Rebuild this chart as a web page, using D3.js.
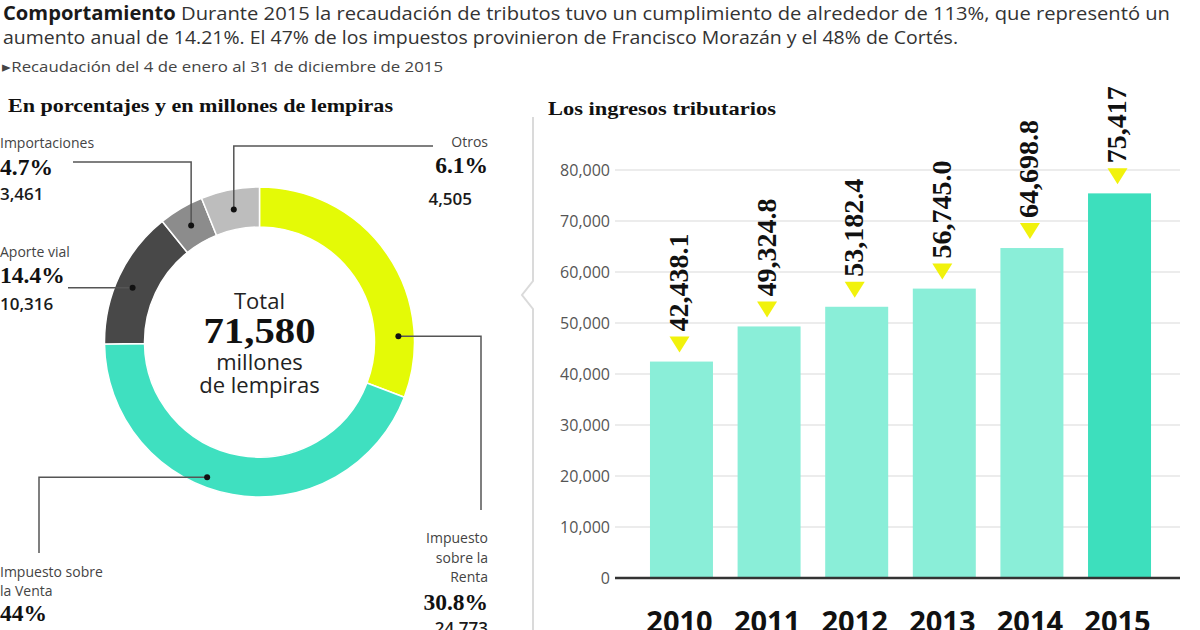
<!DOCTYPE html>
<html>
<head>
<meta charset="utf-8">
<script src="https://cdn.jsdelivr.net/npm/d3@7"></script>
<style>
  body { margin: 0; background: #fff; }
  svg { display: block; }
</style>
</head>
<body>
<div id="chart"></div>
<script>

// donut data
var sliceNames = ["Impuesto sobre la Renta", "Impuesto sobre la Venta", "Aporte vial", "Importaciones", "Otros"];
var slicePct = [30.8, 44, 14.4, 4.7, 6.1];
var sliceValues = ["24,773", null, "10,316", "3,461", "4,505"];
var sliceColors = ["#e4fa06", "#3fe0c0", "#484848", "#8c8c8c", "#bdbdbd"];
var totalLabel = "71,580";

// bar data
var years = ["2010", "2011", "2012", "2013", "2014", "2015"];
var ingresos = [42438.1, 49324.8, 53182.4, 56745.0, 64698.8, 75417];
var ingresosLabels = ["42,438.1", "49,324.8", "53,182.4", "56,745.0", "64,698.8", "75,417"];
var yTicks = [0, 10000, 20000, 30000, 40000, 50000, 60000, 70000, 80000];

var W = 1200, H = 630;
var sans = "'Open Sans', 'Noto Sans', sans-serif";
var serif = "'Liberation Serif', 'DejaVu Serif', serif";

var svg = d3.select("#chart")
    .append("svg")
    .attr("width", W)
    .attr("height", H);

// ---- header ----
var h1 = svg.append("text")
    .attr("x", 3).attr("y", 19.5)
    .attr("textLength", 1167).attr("lengthAdjust", "spacingAndGlyphs")
    .style("font-family", sans).style("font-size", "19px").style("fill", "#333");
h1.append("tspan").style("font-weight", 700).style("fill", "#1a1a1a").text("Comportamiento");
h1.append("tspan").text(" Durante 2015 la recaudación de tributos tuvo un cumplimiento de alrededor de 113%, que representó un");

svg.append("text")
    .attr("x", 3).attr("y", 43.5)
    .attr("textLength", 955).attr("lengthAdjust", "spacingAndGlyphs")
    .style("font-family", sans).style("font-size", "19px").style("fill", "#333")
    .text("aumento anual de 14.21%. El 47% de los impuestos provinieron de Francisco Morazán y el 48% de Cortés.");

svg.append("text")
    .attr("x", 2).attr("y", 72)
    .attr("textLength", 441).attr("lengthAdjust", "spacingAndGlyphs")
    .style("font-family", sans).style("font-size", "14.5px").style("fill", "#444")
    .text("▸Recaudación del 4 de enero al 31 de diciembre de 2015");

svg.append("text")
    .attr("x", 8).attr("y", 112)
    .attr("textLength", 385).attr("lengthAdjust", "spacingAndGlyphs")
    .style("font-family", serif).style("font-weight", 700).style("font-size", "19px").style("fill", "#111")
    .text("En porcentajes y en millones de lempiras");

svg.append("text")
    .attr("x", 548).attr("y", 115)
    .attr("textLength", 228).attr("lengthAdjust", "spacingAndGlyphs")
    .style("font-family", serif).style("font-weight", 700).style("font-size", "19px").style("fill", "#111")
    .text("Los ingresos tributarios");

// divider with chevron
svg.append("path")
    .attr("d", "M533,117 L533,281 L522,295 L533,309 L533,630")
    .style("fill", "none").style("stroke", "#dadada").style("stroke-width", 2);

// ---- donut ----
var cx = 259.5, cy = 342, rIn = 115, rOut = 155;

var pie = d3.pie().sort(null).value(function (d) { return d; });
var arcs = pie(slicePct);
var arc = d3.arc().innerRadius(rIn).outerRadius(rOut);

var donut = svg.append("g").attr("transform", "translate(" + cx + "," + cy + ")");

donut.selectAll("path")
    .data(arcs)
    .enter()
    .append("path")
    .attr("d", arc)
    .style("fill", function (d, i) { return sliceColors[i] })
    .style("stroke", "#fff")
    .style("stroke-width", 1.5);

// where leader dots sit inside each slice, and how the leader runs
var dotFrac = [0.79, 0.57, 0.46, 0.5, 0.5];
var dotR = [139, 145, 138, 135, 135];
var leaders = [
    { type: "hv", x: 481, y: 510 },
    { type: "hv", x: 39, y: 553 },
    { type: "h", x: 68 },
    { type: "vh", x: 73, y: 162 },
    { type: "vh", x: 433, y: 146 }
];

arcs.forEach(function (a, i) {
    var ang = a.startAngle + (a.endAngle - a.startAngle) * dotFrac[i];
    var dx = cx + dotR[i] * Math.sin(ang);
    var dy = cy - dotR[i] * Math.cos(ang);
    var L = leaders[i];
    var pts;
    if (L.type == "hv") pts = [[dx, dy], [L.x, dy], [L.x, L.y]];
    else if (L.type == "vh") pts = [[dx, dy], [dx, L.y], [L.x, L.y]];
    else pts = [[dx, dy], [L.x, dy]];
    svg.append("path")
        .attr("d", d3.line()(pts))
        .style("fill", "none").style("stroke", "#555").style("stroke-width", 1.5);
    svg.append("circle")
        .attr("cx", dx).attr("cy", dy).attr("r", 3)
        .style("fill", "#111");
});

// slice labels: [text, kind, y]
var labelBlocks = [
    { anchor: "end", x: 488, lines: [["Impuesto", "s", 543], ["sobre la", "s", 563], ["Renta", "s", 582], [slicePct[0] + "%", "p", 610], [sliceValues[0], "v", 634]] },
    { anchor: "start", x: 0, lines: [["Impuesto sobre", "s", 577], ["la Venta", "s", 596], [slicePct[1] + "%", "p", 621]] },
    { anchor: "start", x: 0, lines: [["Aporte vial", "s", 257], [slicePct[2] + "%", "p", 283], [sliceValues[2], "v", 310]] },
    { anchor: "start", x: 0, lines: [["Importaciones", "s", 148], [slicePct[3] + "%", "p", 175], [sliceValues[3], "v", 200]] },
    { anchor: "end", x: 488, lines: [["Otros", "s", 147], [slicePct[4] + "%", "p", 173], [sliceValues[4], "v", 205, 472]] }
];

labelBlocks.forEach(function (b) {
    b.lines.forEach(function (ln) {
        var t = svg.append("text")
            .attr("x", ln[3] || b.x)
            .attr("y", ln[2])
            .attr("text-anchor", b.anchor)
            .text(ln[0]);
        if (ln[1] == "s") {
            t.style("font-family", sans).style("font-size", "14px").style("fill", "#444");
        } else if (ln[1] == "p") {
            t.style("font-family", serif).style("font-weight", 700).style("font-size", "23.5px").style("fill", "#111");
        } else {
            t.style("font-family", sans).style("font-weight", 600).style("font-size", "17px").style("fill", "#1a1a1a");
        }
    });
});

// center text
svg.append("text").attr("x", cx).attr("y", 309).attr("text-anchor", "middle")
    .style("font-family", sans).style("font-size", "22px").style("fill", "#222").text("Total");
svg.append("text").attr("x", cx).attr("y", 343).attr("text-anchor", "middle")
    .attr("textLength", 112).attr("lengthAdjust", "spacingAndGlyphs")
    .style("font-family", serif).style("font-weight", 700).style("font-size", "36px").style("fill", "#111").text(totalLabel);
svg.append("text").attr("x", cx).attr("y", 370).attr("text-anchor", "middle")
    .style("font-family", sans).style("font-size", "22px").style("fill", "#222").text("millones");
svg.append("text").attr("x", cx).attr("y", 393).attr("text-anchor", "middle")
    .style("font-family", sans).style("font-size", "22px").style("fill", "#222").text("de lempiras");

// ---- bar chart ----
var x = d3.scaleBand()
    .domain(years)
    .range([618, 1183])
    .paddingInner(0.281)
    .paddingOuter(0.365);

var y = d3.scaleLinear()
    .domain([0, 80000])
    .range([578, 170]);

var chart = svg.append("g");

chart.selectAll(".grid")
    .data(yTicks.slice(1))
    .enter()
    .append("line")
    .attr("x1", 615).attr("x2", 1180)
    .attr("y1", function (d) { return y(d) })
    .attr("y2", function (d) { return y(d) })
    .style("stroke", "#e6e6e6").style("stroke-width", 1.5);

chart.selectAll(".ytick")
    .data(yTicks)
    .enter()
    .append("text")
    .attr("x", 610)
    .attr("y", function (d) { return y(d) })
    .attr("dy", "0.36em")
    .attr("text-anchor", "end")
    .style("font-family", sans).style("font-size", "16px").style("fill", "#555")
    .text(function (d) { return d3.format(",")(d) });

chart.selectAll(".bar")
    .data(ingresos)
    .enter()
    .append("rect")
    .attr("x", function (d, i) { return x(years[i]) })
    .attr("y", function (d) { return y(d) })
    .attr("width", x.bandwidth())
    .attr("height", function (d) { return y(0) - y(d) })
    .style("fill", function (d, i) { return i == years.length - 1 ? "#3ddfbd" : "#8aeed8" });

chart.append("line")
    .attr("x1", 615).attr("x2", 1180)
    .attr("y1", y(0)).attr("y2", y(0))
    .style("stroke", "#333").style("stroke-width", 2.5);

// yellow markers + rotated values
chart.selectAll(".tri")
    .data(ingresos)
    .enter()
    .append("path")
    .attr("d", function (d, i) {
        var c = x(years[i]) + x.bandwidth() / 2 - 2, t = y(d) - 9;
        return "M" + (c - 10) + "," + (t - 16) + " L" + (c + 10) + "," + (t - 16) + " L" + c + "," + t + " Z";
    })
    .style("fill", "#f1f20c");

chart.selectAll(".val")
    .data(ingresos)
    .enter()
    .append("text")
    .attr("transform", function (d, i) {
        return "translate(" + (x(years[i]) + x.bandwidth() / 2 - 3) + "," + (y(d) - 30) + ") rotate(-90)";
    })
    .attr("dy", "0.34em")
    .style("font-family", serif).style("font-weight", 700).style("font-size", "28px").style("fill", "#111")
    .text(function (d, i) { return ingresosLabels[i] });

chart.selectAll(".year")
    .data(years)
    .enter()
    .append("text")
    .attr("x", function (d) { return x(d) + x.bandwidth() / 2 - 2 })
    .attr("y", 632)
    .attr("text-anchor", "middle")
    .style("font-family", sans).style("font-weight", 700).style("font-size", "29px").style("fill", "#111")
    .text(function (d) { return d });

</script>
</body>
</html>
